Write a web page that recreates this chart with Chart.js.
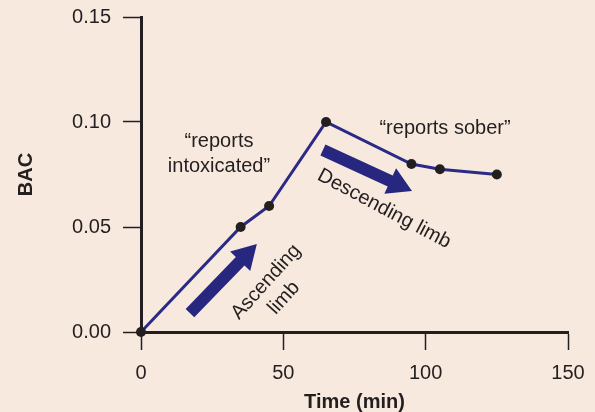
<!DOCTYPE html>
<html>
<head>
<meta charset="utf-8">
<script src="https://cdn.jsdelivr.net/npm/chart.js@4/dist/chart.umd.min.js"></script>
<style>
  html, body { margin: 0; padding: 0; background: #f8e9df; }
  #wrap { width: 595px; height: 412px; }
</style>
</head>
<body>
<div id="wrap"><canvas id="bacChart"></canvas></div>
<script>
// --- DATA ---
const timeMin = [0, 35, 45, 65, 95, 105, 125];
const bacValues = [0, 0.05, 0.06, 0.10, 0.08, 0.0775, 0.075];
const xTicks = [0, 50, 100, 150];
const yTicks = [0, 0.05, 0.10, 0.15];

const INK = '#231f20';
const BLUE = '#2b2b86';
const FONT = '"Liberation Sans", Arial, Helvetica, sans-serif';

// annotations, placed in data units
const notes = [
    { lines: ['\u201creports', 'intoxicated\u201d'], x: 27.4, y: 0.0905, angle: 0, gap: 25 },
    { lines: ['\u201creports sober\u201d'], x: 106.8, y: 0.0971, angle: 0, gap: 0 },
    { lines: ['Descending limb'], x: 85.4, y: 0.0586, angle: 28, gap: 0 },
    { lines: ['Ascending', 'limb'], x: 47.1, y: 0.02, angle: -48, gap: 24, centered: true }
];
const arrows = [
    { from: [17.2, 0.009], to: [40.7, 0.0419] },
    { from: [63.9, 0.0867], to: [95.2, 0.0671] }
];

function drawArrow(ctx, x1, y1, x2, y2) {
    const ang = Math.atan2(y2 - y1, x2 - x1);
    const len = Math.hypot(x2 - x1, y2 - y1);
    const shaft = 12, head = 28, headLen = 24;
    ctx.save();
    ctx.translate(x1, y1);
    ctx.rotate(ang);
    ctx.beginPath();
    ctx.moveTo(0, -shaft / 2);
    ctx.lineTo(len - headLen, -shaft / 2);
    ctx.lineTo(len - headLen, -head / 2);
    ctx.lineTo(len, 0);
    ctx.lineTo(len - headLen, head / 2);
    ctx.lineTo(len - headLen, shaft / 2);
    ctx.lineTo(0, shaft / 2);
    ctx.closePath();
    ctx.fillStyle = '#27277f';
    ctx.fill();
    ctx.restore();
}

const annotationPlugin = {
    id: 'notes',
    afterDatasetsDraw(chart) {
        const { ctx, scales: { x, y } } = chart;
        arrows.forEach(a => {
            drawArrow(ctx, x.getPixelForValue(a.from[0]), y.getPixelForValue(a.from[1]),
                x.getPixelForValue(a.to[0]), y.getPixelForValue(a.to[1]));
        });
        ctx.save();
        ctx.fillStyle = INK;
        ctx.font = '20px ' + FONT;
        ctx.textAlign = 'center';
        ctx.textBaseline = 'middle';
        notes.forEach(n => {
            ctx.save();
            ctx.translate(x.getPixelForValue(n.x), y.getPixelForValue(n.y));
            ctx.rotate(n.angle * Math.PI / 180);
            const off = n.centered ? -(n.lines.length - 1) * n.gap / 2 : 0;
            n.lines.forEach((t, i) => ctx.fillText(t, 0, off + i * n.gap));
            ctx.restore();
        });
        ctx.restore();
    }
};

const ctx = document.getElementById('bacChart').getContext('2d');
new Chart(ctx, {
    type: 'line',
    data: {
        datasets: [{
            data: timeMin.map((t, i) => ({ x: t, y: bacValues[i] })),
            borderColor: BLUE,
            borderWidth: 3,
            pointRadius: 5,
            pointBackgroundColor: INK,
            pointBorderWidth: 0,
            tension: 0,
            clip: false
        }]
    },
    options: {
        responsive: true,
        maintainAspectRatio: false,
        animation: false,
        events: [],
        layout: { padding: { left: 6, right: 27, top: 17, bottom: 0 } },
        plugins: { legend: { display: false }, tooltip: { enabled: false } },
        scales: {
            x: {
                type: 'linear',
                min: 0, max: 150,
                afterBuildTicks: s => { s.ticks = xTicks.map(v => ({ value: v })); },
                afterFit: s => { s.height = 80; s.paddingLeft = 0; s.paddingRight = 0; },
                border: { color: INK, width: 3 },
                grid: { drawOnChartArea: false, tickLength: 18, tickColor: INK, tickWidth: 1.5 },
                ticks: { color: INK, font: { family: FONT, size: 20 }, padding: 11, maxRotation: 0 },
                title: { display: true, text: 'Time (min)', color: INK, padding: 0,
                    font: { family: FONT, size: 20, weight: 'bold', lineHeight: 1 } }
            },
            y: {
                min: 0, max: 0.15,
                afterBuildTicks: s => { s.ticks = yTicks.map(v => ({ value: v })); },
                afterFit: s => { s.width = 135; s.paddingTop = 0; s.paddingBottom = 0; },
                border: { color: INK, width: 3 },
                grid: { drawOnChartArea: false, tickLength: 18, tickColor: INK, tickWidth: 1.5 },
                ticks: { color: INK, font: { family: FONT, size: 20 }, padding: 12,
                    callback: v => v.toFixed(2) },
                title: { display: true, text: 'BAC', color: INK, padding: 10,
                    font: { family: FONT, size: 20, weight: 'bold', lineHeight: 1 } }
            }
        }
    },
    plugins: [annotationPlugin]
});
</script>
</body>
</html>
